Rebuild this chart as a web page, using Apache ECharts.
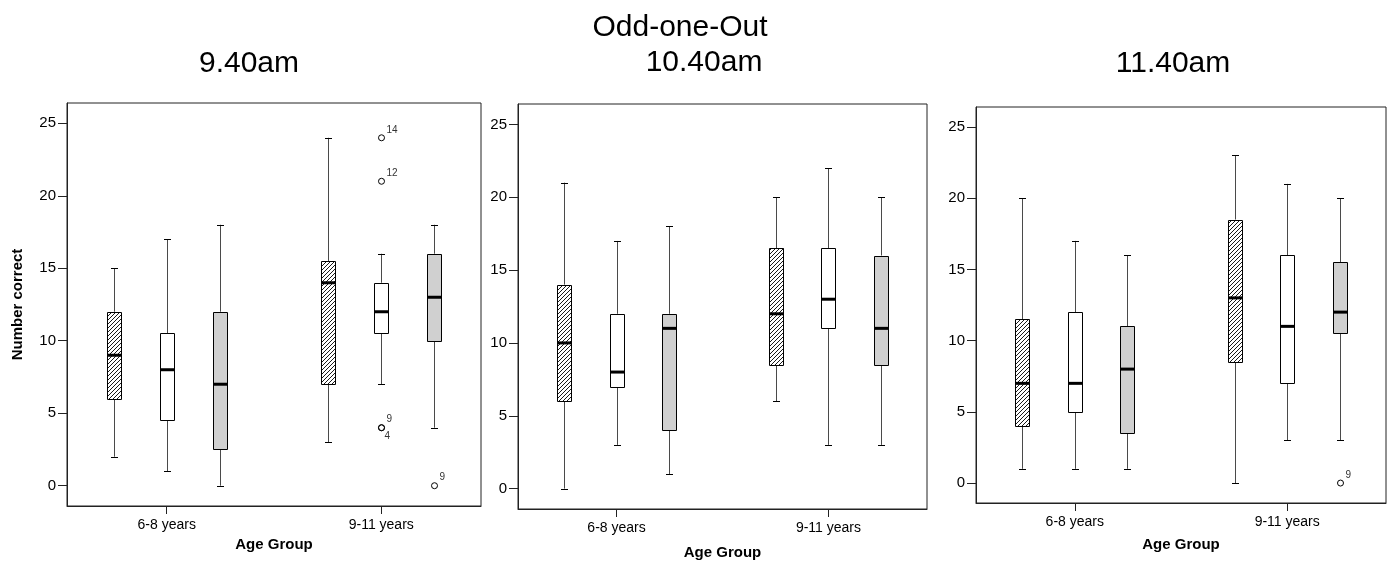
<!DOCTYPE html>
<html><head><meta charset="utf-8">
<script src="https://cdn.jsdelivr.net/npm/echarts@6/dist/echarts.min.js"></script>
<style>html,body{margin:0;padding:0;background:#fff}#chart{width:1392px;height:565px}</style>
</head><body><div id="chart"></div>
<script>
const mainTitle = 'Odd-one-Out';
const panelTitles = ['9.40am', '10.40am', '11.40am'];
const categories = ['6-8 years', '9-11 years'];
const yTicks = [0, 5, 10, 15, 20, 25];
const yAxisName = 'Number correct';
const xAxisName = 'Age Group';

// five-number summaries per age group: [min, Q1, median, Q3, max]
const hatched940 = [[2, 6, 9, 12, 15], [3, 7, 14, 15.5, 24]];
const white940 = [[1, 4.5, 8, 10.5, 17], [7, 10.5, 12, 14, 16]];
const grey940 = [[0, 2.5, 7, 12, 18], [4, 10, 13, 16, 18]];

const hatched1040 = [[0, 6, 10, 14, 21], [6, 8.5, 12, 16.5, 20]];
const white1040 = [[3, 7, 8, 12, 17], [3, 11, 13, 16.5, 22]];
const grey1040 = [[1, 4, 11, 12, 18], [3, 8.5, 11, 16, 20]];

const hatched1140 = [[1, 4, 7, 11.5, 20], [0, 8.5, 13, 18.5, 23]];
const white1140 = [[1, 5, 7, 12, 17], [3, 7, 11, 16, 21]];
const grey1140 = [[1, 3.5, 8, 11, 16], [3, 10.5, 12, 15.5, 20]];

// outliers: [age group index, box index (0 hatched, 1 white, 2 grey), value, case label]
const outliers940 = [[1, 1, 24, '14'], [1, 1, 21, '12'], [1, 1, 4, '9'], [1, 1, 4, '4'], [1, 2, 0, '9']];
const outliers1040 = [];
const outliers1140 = [[1, 2, 0, '9']];

const FONT = '"Liberation Sans", Arial, Helvetica, sans-serif';
const panels = [
  { boxes: [hatched940, white940, grey940], outliers: outliers940 },
  { boxes: [hatched1040, white1040, grey1040], outliers: outliers1040 },
  { boxes: [hatched1140, white1140, grey1140], outliers: outliers1140 }
];
const grids = [
  { left: 67, top: 103, width: 414, height: 403 },
  { left: 518, top: 104, width: 409, height: 405 },
  { left: 976, top: 107, width: 410, height: 396 }
];
const nameGaps = [31, 36, 34];
const titlePos = [[249, 63.5], [704, 63], [1173, 63.5]];

const BOX_HALF = 7, CAP_HALF = 3.5, SHIFT = 0.247, HATCH_STEP = 4;
function boxX(api, g, s) {
  const base = api.coord([g, 0])[0];
  const unit = api.size([1, 0])[0];
  return Math.round(base + (s - 1) * unit * SHIFT) + 0.5;
}
function renderBox(params, api) {
  const g = api.value(0), s = api.value(1);
  const cx = boxX(api, g, s);
  const py = i => api.coord([g, api.value(i)])[1];
  const yMin = py(2), yQ1 = py(3), yMed = py(4), yQ3 = py(5), yMax = py(6);
  const x0 = cx - BOX_HALF, x1 = cx + BOX_HALF;
  const children = [];
  const wStyle = { stroke: '#4a4a4a', lineWidth: 1 };
  children.push({ type: 'line', shape: { x1: cx, y1: yMax, x2: cx, y2: yQ3 }, style: wStyle });
  children.push({ type: 'line', shape: { x1: cx, y1: yQ1, x2: cx, y2: yMin }, style: wStyle });
  const cStyle = { stroke: '#000', lineWidth: 1 };
  children.push({ type: 'line', shape: { x1: cx - CAP_HALF, y1: Math.round(yMax) + 0.5, x2: cx + CAP_HALF, y2: Math.round(yMax) + 0.5 }, style: cStyle });
  children.push({ type: 'line', shape: { x1: cx - CAP_HALF, y1: Math.round(yMin) + 0.5, x2: cx + CAP_HALF, y2: Math.round(yMin) + 0.5 }, style: cStyle });
  const top = Math.round(yQ3) + 0.5, bot = Math.round(yQ1) + 0.5;
  const fill = s === 2 ? '#d0d0d0' : '#fff';
  children.push({ type: 'rect', shape: { x: x0, y: top, width: x1 - x0, height: bot - top }, style: { fill: fill, stroke: null } });
  if (s === 0) {
    let c = Math.ceil((x0 + top) / HATCH_STEP) * HATCH_STEP;
    for (; c < x1 + bot; c += HATCH_STEP) {
      const xa = Math.max(x0, c - bot), xb = Math.min(x1, c - top);
      if (xb > xa) {
        children.push({ type: 'line', shape: { x1: xa, y1: c - xa, x2: xb, y2: c - xb }, style: { stroke: '#1a1a1a', lineWidth: 1 } });
      }
    }
  }
  children.push({ type: 'rect', shape: { x: x0, y: top, width: x1 - x0, height: bot - top }, style: { fill: null, stroke: '#000', lineWidth: 1 } });
  children.push({ type: 'line', shape: { x1: x0, y1: yMed, x2: x1, y2: yMed }, style: { stroke: '#000', lineWidth: 3 } });
  return { type: 'group', children: children };
}
function makeOutlierRender(list) {
  return function (params, api) {
    const item = list[params.dataIndex];
    const g = item[0], s = item[1], v = item[2], text = item[3];
    const dup = list.slice(0, params.dataIndex).filter(o => o[0] === g && o[1] === s && o[2] === v).length;
    const cx = boxX(api, g, s);
    const cy = api.coord([g, v])[1];
    return { type: 'group', children: [
      { type: 'circle', shape: { cx: cx, cy: cy, r: 3 }, style: { fill: null, stroke: '#000', lineWidth: 1 } },
      { type: 'text', x: cx + (dup ? 3 : 5), y: cy + (dup ? 9 : -8),
        style: { text: text, fill: '#333', font: '10px ' + FONT, align: 'left', verticalAlign: 'middle' } }
    ] };
  };
}

const graphic = [{ type: 'text', x: 680, y: 27.5, style: { text: mainTitle, font: '30px ' + FONT, fill: '#000', align: 'center', verticalAlign: 'middle' } }];
panelTitles.forEach((t, i) => graphic.push({ type: 'text', x: titlePos[i][0], y: titlePos[i][1], style: { text: t, font: '30px ' + FONT, fill: '#000', align: 'center', verticalAlign: 'middle' } }));

const series = [];
panels.forEach((p, i) => {
  const data = [];
  p.boxes.forEach((arr, s) => arr.forEach((v, g) => data.push([g, s].concat(v))));
  series.push({ type: 'custom', xAxisIndex: i, yAxisIndex: i, renderItem: renderBox, encode: { x: 0, y: [2, 3, 4, 5, 6] }, data: data, silent: true });
  series.push({ type: 'custom', xAxisIndex: i, yAxisIndex: i, renderItem: makeOutlierRender(p.outliers), encode: { x: 0, y: 1 }, data: p.outliers.map(o => [o[0], o[2]]), silent: true });
});

const option = {
  animation: false,
  backgroundColor: '#fff',
  graphic: graphic,
  grid: grids.map(g => Object.assign({ show: true, borderColor: '#222', borderWidth: 1, backgroundColor: 'transparent' }, g)),
  xAxis: grids.map((g, i) => ({
    type: 'value', gridIndex: i, min: -0.465, max: 1.465,
    name: xAxisName, nameLocation: 'middle', nameGap: nameGaps[i],
    nameTextStyle: { fontFamily: FONT, fontSize: 15, fontWeight: 'bold', color: '#000' },
    axisLine: { show: true, onZero: false, lineStyle: { color: '#222', width: 1 } },
    axisTick: { show: true, customValues: [0, 1], length: 8, lineStyle: { color: '#222' } },
    axisLabel: { show: true, customValues: [0, 1], formatter: v => categories[Math.round(v)], fontFamily: FONT, fontSize: 14, color: '#000', margin: 12 },
    splitLine: { show: false }
  })),
  yAxis: grids.map((g, i) => ({
    type: 'value', gridIndex: i, min: -1.4, max: 26.4,
    name: i === 0 ? yAxisName : '', nameLocation: 'middle', nameGap: 42,
    nameTextStyle: { fontFamily: FONT, fontSize: 15, fontWeight: 'bold', color: '#000' },
    axisLine: { show: true, onZero: false, lineStyle: { color: '#222', width: 1 } },
    axisTick: { show: true, customValues: yTicks, length: 9, lineStyle: { color: '#222' } },
    axisLabel: { show: true, customValues: yTicks, fontFamily: FONT, fontSize: 15, color: '#000', margin: 11 },
    splitLine: { show: false }
  })),
  series: series
};
const chart = echarts.init(document.getElementById('chart'), null, { renderer: 'canvas' });
chart.setOption(option);
</script></body></html>
